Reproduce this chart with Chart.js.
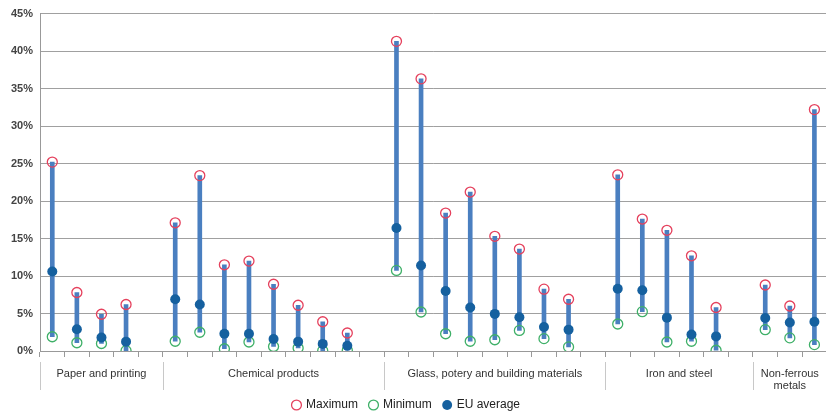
<!DOCTYPE html>
<html>
<head>
<meta charset="utf-8">
<script src="https://cdn.jsdelivr.net/npm/chart.js@4"></script>
<style>
  html, body { margin: 0; padding: 0; background: #fff; overflow: hidden; }
  #wrap { width: 833px; height: 416px; }
</style>
</head>
<body>
<div id="wrap"><canvas id="rangeChart" width="833" height="416"></canvas></div>
<script>
// sector groups and how many countries/items each one shows
const groups = ['Paper and printing', 'Chemical products', 'Glass, potery and building materials', 'Iron and steel', ['Non-ferrous', 'metals']];
const groupCounts = [4, 8, 8, 5, 3];

// values in %, null = empty slot between groups
const maxima = [25.2, 7.8, 4.9, 6.2, null,
    17.1, 23.4, 11.5, 12.0, 8.9, 6.1, 3.9, 2.4, null,
    41.3, 36.3, 18.4, 21.2, 15.3, 13.6, 8.25, 6.9, null,
    23.5, 17.6, 16.1, 12.7, 5.8, null,
    8.8, 6.0, 32.2];
const minima = [1.9, 1.1, 1.0, 0.05, null,
    1.3, 2.5, 0.3, 1.2, 0.6, 0.4, 0.05, 0.1, null,
    10.75, 5.2, 2.3, 1.3, 1.5, 2.75, 1.65, 0.55, null,
    3.6, 5.25, 1.2, 1.3, 0.1, null,
    2.85, 1.75, 0.85];
const euAverage = [10.6, 2.9, 1.8, 1.25, null,
    6.9, 6.2, 2.3, 2.3, 1.6, 1.25, 0.95, 0.7, null,
    16.4, 11.4, 8.0, 5.8, 4.95, 4.5, 3.2, 2.85, null,
    8.3, 8.1, 4.45, 2.2, 1.95, null,
    4.4, 3.8, 3.9];

const yTicks = [0, 5, 10, 15, 20, 25, 30, 35, 40, 45];

document.addEventListener("DOMContentLoaded", function () {
    const ctx = document.getElementById("rangeChart").getContext("2d");
    const fontFamily = "'Liberation Sans', Arial, sans-serif";

    // one label per slot (items of a group + a gap after it)
    const labels = [];
    groupCounts.forEach((n, g) => {
        for (let i = 0; i < n; i++) labels.push((Array.isArray(groups[g]) ? groups[g].join(' ') : groups[g]) + ' ' + (i + 1));
        if (g < groupCounts.length - 1) labels.push('');
    });

    const ranges = maxima.map((v, i) => v === null ? null : [minima[i], v]);

    // group labels under the axis with thin separators
    const groupLabels = {
        id: 'groupLabels',
        afterLayout(chart) {
            // legend sits a bit left of centre in the original
            chart.legend.left -= 10;
            chart.legend.right -= 10;
        },
        afterDraw(chart) {
            const x = chart.scales.x;
            const half = (x.getPixelForValue(1) - x.getPixelForValue(0)) / 2;
            const c = chart.ctx;
            c.save();
            c.strokeStyle = '#c8c8c8';
            c.lineWidth = 1;
            c.fillStyle = '#333';
            c.font = '11px ' + fontFamily;
            c.textAlign = 'center';
            c.textBaseline = 'middle';
            let start = 0;
            groupCounts.forEach((n, g) => {
                const slots = n + (g < groupCounts.length - 1 ? 1 : 0);
                const left = x.getPixelForValue(start) - half;
                const right = x.getPixelForValue(start + slots - 1) + half;
                c.beginPath();
                c.moveTo(Math.round(left) + 0.5, 362);
                c.lineTo(Math.round(left) + 0.5, 390);
                c.stroke();
                const name = groups[g];
                const lines = Array.isArray(name) ? name : [name];
                lines.forEach((t, k) => c.fillText(t, (left + right) / 2, 374 + k * 12));
                start += slots;
            });
            c.restore();
        }
    };

    new Chart(ctx, {
        data: {
            labels: labels,
            datasets: [
                {
                    type: 'line',
                    label: 'Maximum',
                    data: maxima,
                    showLine: false,
                    pointStyle: 'circle',
                    pointRadius: 5,
                    pointBorderWidth: 1.3,
                    borderColor: '#e5415d',
                    backgroundColor: 'rgba(255,255,255,0)',
                    order: 1
                },
                {
                    type: 'line',
                    label: 'Minimum',
                    data: minima,
                    showLine: false,
                    pointStyle: 'circle',
                    pointRadius: 5,
                    pointBorderWidth: 1.3,
                    borderColor: '#3fb068',
                    backgroundColor: 'rgba(255,255,255,0)',
                    order: 2
                },
                {
                    type: 'line',
                    label: 'EU average',
                    data: euAverage,
                    showLine: false,
                    pointStyle: 'circle',
                    pointRadius: 5,
                    pointBorderWidth: 0,
                    borderColor: '#15609f',
                    backgroundColor: '#15609f',
                    order: 0
                },
                {
                    type: 'bar',
                    label: 'range',
                    data: ranges,
                    backgroundColor: '#4a7fc0',
                    barThickness: 4,
                    grouped: false,
                    order: 5
                }
            ]
        },
        options: {
            responsive: false,
            animation: false,
            layout: { padding: { top: 1, right: 0, bottom: -5, left: 0 } },
            plugins: {
                tooltip: { enabled: false },
                legend: {
                    position: 'bottom',
                    labels: {
                        usePointStyle: true,
                        boxWidth: 7,
                        boxHeight: 7,
                        padding: 12,
                        color: '#222',
                        font: { size: 12, family: fontFamily },
                        filter: item => item.text !== 'range',
                        sort: (a, b) => a.datasetIndex - b.datasetIndex
                    }
                }
            },
            scales: {
                x: {
                    offset: true,
                    grid: { offset: true, drawOnChartArea: false, tickLength: 6, color: '#999' },
                    border: { color: '#999' },
                    ticks: { display: false },
                    afterFit(scale) { scale.height = 36; }
                },
                y: {
                    min: 0,
                    max: 45,
                    afterBuildTicks(scale) { scale.ticks = yTicks.map(v => ({ value: v })); },
                    afterFit(scale) { scale.width = 40; },
                    grid: { color: '#a0a0a0', drawTicks: false },
                    border: { color: '#999' },
                    ticks: {
                        padding: 7,
                        color: '#444',
                        font: { size: 11, weight: 'bold', family: fontFamily },
                        callback: v => v + '%'
                    }
                }
            }
        },
        plugins: [groupLabels]
    });
});
</script>
</body>
</html>
